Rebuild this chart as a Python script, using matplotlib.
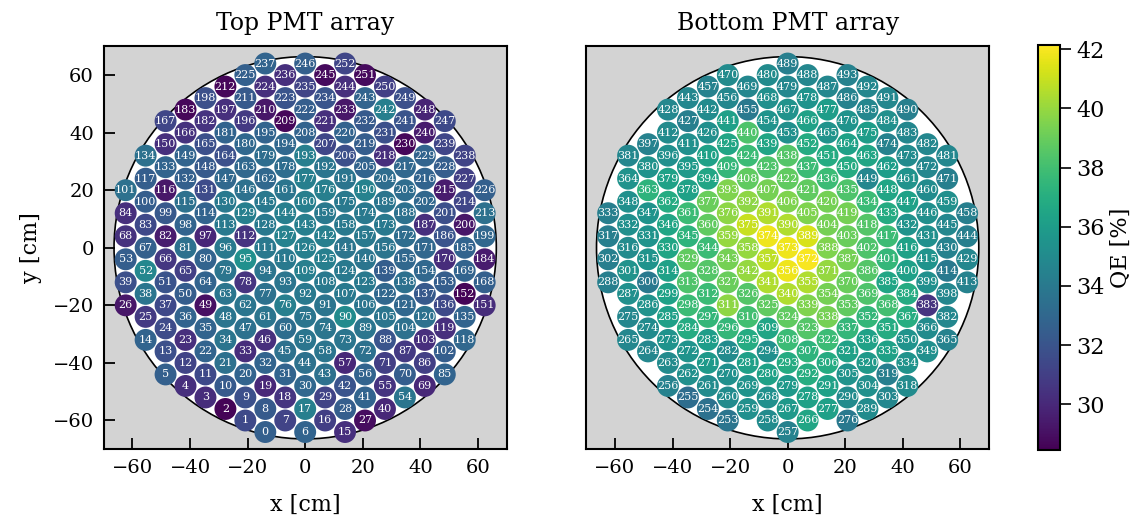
import numpy as np
import matplotlib
matplotlib.use('Agg')
import matplotlib.pyplot as plt
from matplotlib.patches import Circle
from matplotlib.collections import PatchCollection

plt.rcParams['font.family'] = 'DejaVu Serif'

# QE [%] per PMT channel, top array: channels 0-252
qe_top = [
    32.6, 31.5, 28.6, 30.2, 30.3, 32.6, 32.8, 31.2, 32.3, 31.8,
    32.3, 31.5, 31.2, 31.8, 32.8, 30.3, 31.0, 34.3, 30.5, 30.0,
    32.8, 33.5, 32.8, 30.3, 31.6, 30.8, 29.3, 28.9, 32.5, 31.2,
    33.0, 32.8, 32.8, 30.2, 33.8, 32.8, 32.8, 31.5, 33.8, 31.8,
    30.0, 32.8, 32.0, 33.5, 33.5, 33.5, 30.3, 33.5, 33.8, 29.0,
    32.5, 32.0, 34.8, 32.5, 33.8, 30.5, 32.8, 30.0, 33.8, 33.8,
    33.3, 33.8, 33.8, 33.8, 32.8, 31.0, 30.6, 32.6, 30.4, 30.0,
    32.5, 31.0, 33.5, 33.8, 33.8, 33.8, 34.3, 33.5, 30.5, 33.8,
    32.8, 33.5, 29.5, 31.5, 30.3, 32.8, 31.0, 30.8, 32.0, 33.8,
    35.0, 33.8, 34.0, 33.8, 33.8, 35.3, 34.0, 29.9, 32.8, 32.2,
    32.5, 33.5, 32.5, 30.3, 33.5, 33.8, 33.8, 34.0, 34.0, 34.3,
    34.0, 34.0, 30.5, 34.0, 32.8, 33.5, 29.3, 32.5, 33.0, 30.3,
    33.5, 33.0, 33.0, 34.0, 34.0, 34.3, 34.3, 34.5, 34.0, 34.3,
    34.0, 31.6, 32.6, 32.8, 33.5, 32.8, 31.5, 32.3, 33.5, 32.5,
    33.8, 33.8, 34.3, 34.3, 34.3, 34.0, 33.5, 33.0, 32.3, 32.8,
    30.3, 30.2, 28.6, 32.5, 33.0, 33.0, 33.8, 34.0, 34.0, 34.0,
    34.3, 33.8, 33.0, 33.0, 31.8, 31.8, 30.4, 31.3, 32.6, 32.8,
    30.2, 33.0, 33.3, 34.0, 34.0, 34.0, 34.3, 34.3, 33.3, 33.3,
    33.0, 32.8, 30.5, 28.7, 29.5, 32.8, 32.0, 30.3, 33.5, 33.8,
    34.5, 33.8, 33.8, 34.3, 33.0, 32.8, 30.8, 30.3, 31.8, 33.0,
    29.3, 31.8, 33.0, 33.3, 33.3, 32.8, 31.8, 31.3, 32.8, 28.7,
    29.3, 32.3, 28.7, 33.5, 31.3, 29.5, 32.8, 33.0, 30.3, 32.5,
    32.8, 30.3, 32.5, 32.0, 30.3, 32.6, 32.6, 31.0, 32.5, 32.8,
    28.7, 31.8, 32.3, 29.3, 32.0, 31.2, 30.3, 32.8, 31.2, 31.3,
    29.5, 32.0, 34.3, 32.8, 30.3, 28.8, 32.6, 31.5, 29.8, 31.8,
    31.0, 28.8, 31.3,
]

# QE [%] per PMT channel, bottom array: channels 253-493
qe_bottom = [
    33.8, 33.5, 33.3, 34.5, 34.5, 35.0, 35.3, 35.0, 35.0, 35.3,
    35.0, 34.8, 34.8, 36.5, 35.8, 35.3, 35.5, 35.3, 35.8, 35.5,
    35.5, 35.0, 34.8, 34.0, 36.2, 36.3, 35.8, 36.3, 36.2, 35.0,
    36.0, 36.8, 36.2, 35.5, 35.3, 34.3, 35.0, 35.0, 36.3, 37.0,
    36.8, 35.3, 36.8, 37.5, 37.5, 37.8, 36.3, 34.0, 35.5, 34.3,
    34.8, 35.3, 35.5, 36.8, 37.3, 37.8, 36.5, 38.0, 39.8, 37.8,
    38.3, 36.3, 35.5, 35.0, 34.3, 35.0, 34.3, 35.8, 36.3, 37.8,
    38.5, 38.8, 38.8, 38.5, 39.0, 38.5, 38.8, 36.5, 35.5, 35.3,
    34.3, 35.5, 36.3, 36.3, 37.5, 39.3, 39.5, 40.5, 40.5, 40.0,
    39.3, 37.8, 37.3, 36.5, 35.5, 35.3, 35.3, 35.5, 36.8, 37.5,
    38.8, 39.3, 40.5, 41.8, 40.8, 40.0, 40.0, 38.8, 37.8, 36.8,
    37.3, 35.5, 34.5, 35.0, 37.0, 38.0, 38.3, 39.0, 40.0, 42.0,
    41.8, 41.8, 41.0, 39.8, 39.0, 36.3, 36.3, 35.5, 34.8, 34.8,
    30.5, 36.8, 36.5, 38.5, 39.3, 39.5, 41.3, 40.5, 40.5, 39.8,
    39.5, 36.5, 35.8, 35.3, 34.5, 34.8, 35.3, 36.2, 37.5, 38.3,
    39.0, 39.3, 39.5, 39.5, 39.3, 38.8, 37.5, 36.3, 35.3, 35.0,
    34.5, 34.0, 35.5, 36.3, 37.8, 38.5, 39.3, 39.3, 38.8, 38.8,
    38.3, 37.8, 36.5, 35.3, 34.3, 34.8, 34.8, 34.5, 35.3, 35.5,
    36.8, 37.8, 38.3, 37.8, 37.8, 38.5, 36.5, 38.3, 36.2, 35.0,
    34.8, 34.3, 34.8, 35.3, 36.3, 36.5, 34.8, 36.8, 36.8, 36.8,
    35.3, 35.5, 34.0, 34.8, 34.5, 34.3, 35.3, 35.0, 35.5, 36.0,
    36.5, 36.3, 35.5, 36.3, 35.5, 35.3, 34.8, 35.0, 34.3, 34.8,
    35.0, 34.5, 36.0, 35.5, 36.0, 35.5, 34.8, 35.0, 34.8, 34.8,
    34.8, 35.3, 34.8, 34.5, 34.8, 34.8, 34.3, 34.3, 34.8, 34.8,
    34.5,
]

pitch = 8.0      # cm, hexagonal PMT spacing
r_tpc = 66.4     # cm
r_pmt = 3.81     # cm
top_limit = 67   # outermost hex ring kept (a^2+ab+b^2)
bottom_limit = 64
vmin, vmax = 28.45, 42.15


def pmt_positions(limit):
    # hex lattice, channels numbered along the 150 deg rows
    cells = []
    for a in range(-10, 11):
        for b in range(-10, 11):
            if a * a + a * b + b * b <= limit:
                cells.append((a + b, a - b, a, b))
    cells.sort()
    x = np.array([c[3] * pitch * np.sqrt(3) / 2 for c in cells])
    y = np.array([(c[2] + c[3] / 2) * pitch for c in cells])
    return x, y


def draw_array(ax, x, y, qe, first):
    ax.set_facecolor('lightgray')
    ax.add_patch(Circle((0, 0), r_tpc, facecolor='white', edgecolor='black',
                        lw=1.2, zorder=1))
    pmts = PatchCollection([Circle((xi, yi), r_pmt) for xi, yi in zip(x, y)],
                           cmap='viridis', edgecolor='none', zorder=2)
    pmts.set_array(np.array(qe))
    pmts.set_clim(vmin, vmax)
    ax.add_collection(pmts)
    for i, (xi, yi) in enumerate(zip(x, y)):
        ax.text(xi, yi, str(first + i), ha='center', va='center',
                color='white', fontsize=8, zorder=3)
    ax.set_xlim(-70, 70)
    ax.set_ylim(-70, 70)
    ax.set_aspect('equal')
    ax.set_xticks([-60, -40, -20, 0, 20, 40, 60])
    ax.tick_params(direction='in', length=8, width=1.3, labelsize=14, pad=7)
    for s in ax.spines.values():
        s.set_linewidth(1.5)
    ax.set_xlabel('x [cm]', fontsize=16, labelpad=12)
    return pmts


fig = plt.figure(figsize=(11.46, 5.2), dpi=100)
ax1 = fig.add_axes([0.0903, 0.136, 0.352, 0.775])
ax2 = fig.add_axes([0.5113, 0.136, 0.352, 0.775])
cax = fig.add_axes([0.9055, 0.1346, 0.0195, 0.779])

xt, yt = pmt_positions(top_limit)
xb, yb = pmt_positions(bottom_limit)

draw_array(ax1, xt, yt, qe_top, 0)
pm = draw_array(ax2, xb, yb, qe_bottom, len(qe_top))

ax1.set_yticks([-60, -40, -20, 0, 20, 40, 60])
ax1.set_ylabel('y [cm]', fontsize=16, labelpad=8)
ax2.set_yticks([])
ax1.set_title('Top PMT array', fontsize=17, pad=12)
ax2.set_title('Bottom PMT array', fontsize=17, pad=12)

cb = fig.colorbar(pm, cax=cax)
cb.set_ticks([30, 32, 34, 36, 38, 40, 42])
cb.ax.tick_params(labelsize=16, length=8, width=1.2)
cb.outline.set_linewidth(1.5)
cb.set_label('QE [%]', fontsize=16, labelpad=4)

fig.savefig('out.png', dpi=100)
